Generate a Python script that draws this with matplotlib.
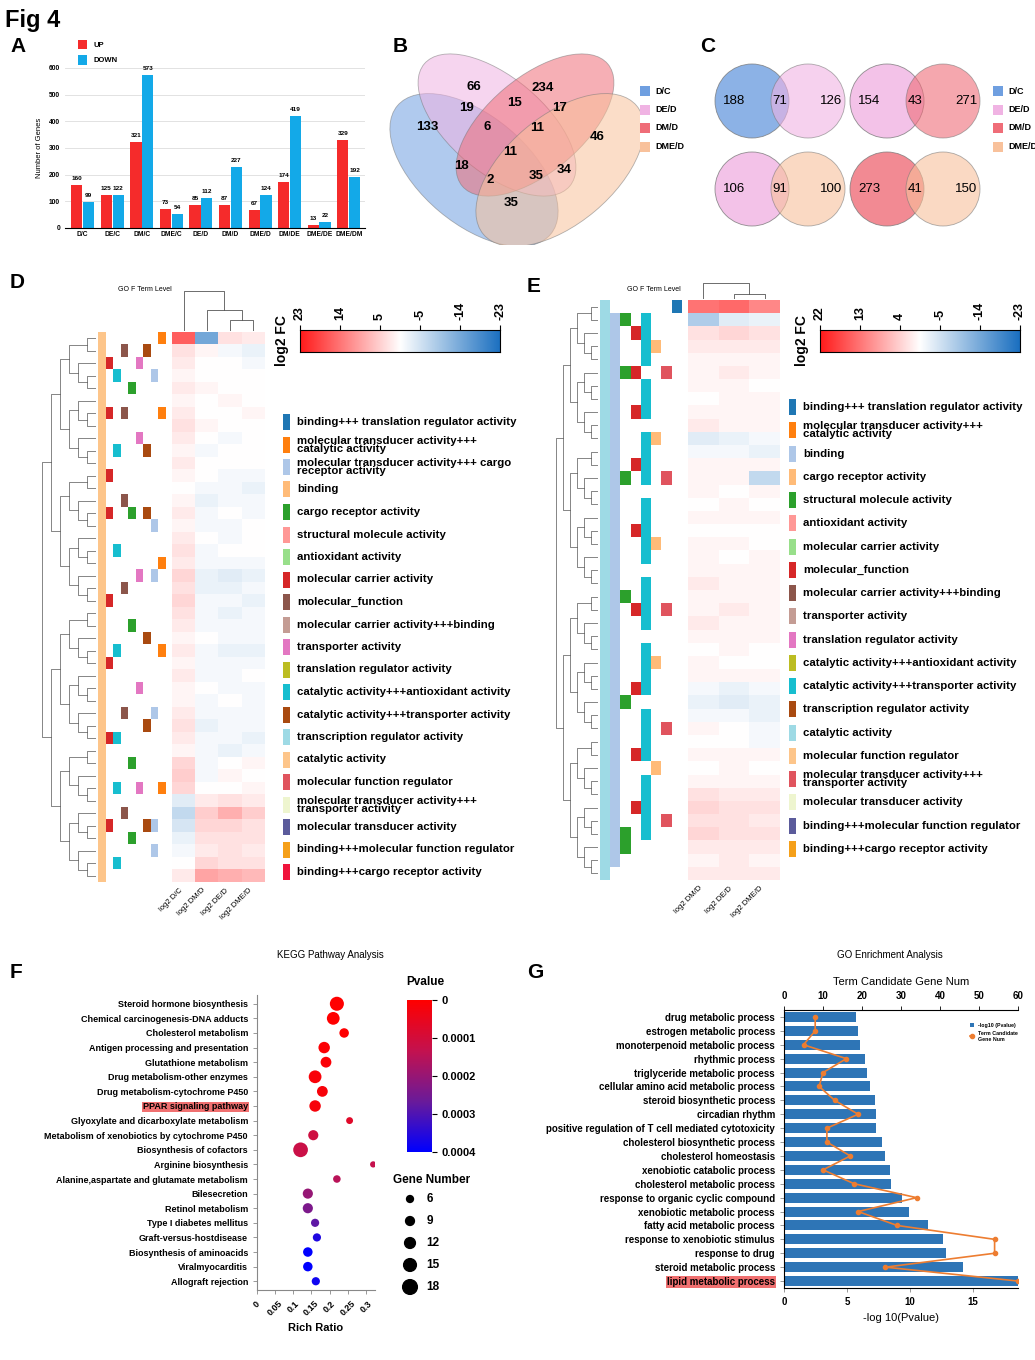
import numpy as np
import matplotlib.pyplot as plt
from matplotlib.patches import Ellipse, Circle, Rectangle
from matplotlib.colors import LinearSegmentedColormap, Normalize, ListedColormap

plt.rcParams['font.family'] = ['Liberation Sans', 'DejaVu Sans']
plt.rcParams['font.weight'] = 'bold'

W, H = 1035, 1360

# ---------------- data ----------------
# A: DEG counts
comparisons = ['D/C', 'DE/C', 'DM/C', 'DME/C', 'DE/D', 'DM/D', 'DME/D', 'DM/DE', 'DME/DE', 'DME/DM']
up_counts = [160, 125, 321, 73, 85, 87, 67, 174, 13, 329]
down_counts = [99, 122, 573, 54, 112, 227, 124, 419, 22, 192]

# B: four-set venn region counts
venn4_labels = ['D/C', 'DE/D', 'DM/D', 'DME/D']
venn4_counts = [133, 66, 234, 46, 19, 15, 17, 6, 11, 11, 34, 18, 35, 2, 35]

# C: pairwise venns (left, shared, right)
venn2_pairs = [('D/C', 'DE/D'), ('DE/D', 'DM/D'), ('DE/D', 'DME/D'), ('DM/D', 'DME/D')]
venn2_counts = [(188, 71, 126), (154, 43, 271), (106, 91, 100), (273, 41, 150)]

set_colors = {'D/C': '#6f9fe0', 'DE/D': '#f0b3e3', 'DM/D': '#ef6d78', 'DME/D': '#f8c19b'}

# D / E heatmaps (log2 FC, rows top to bottom)
heat_D_cols = ['log2 D/C', 'log2 DM/D', 'log2 DE/D', 'log2 DME/D']
heat_D = [
    [16, -14, 3, 2], [3, 1, -1, -2], [2, 0, 0, -1], [1, 0, 0, 0], [2, 1, 0, 0],
    [1, 0, 1, 0], [2, 0, 0, 1], [3, 1, 0, 0], [2, 0, -1, 0], [1, -1, 0, 0],
    [2, 0, 0, 0], [1, 0, -1, -1], [0, -1, -1, -2], [1, -2, -1, -1], [2, -1, 0, -1],
    [1, -1, -1, 0], [2, 0, -1, 0], [3, -1, 0, 0], [2, -1, -1, -1], [4, -2, -3, -2],
    [3, -2, -2, -1], [4, -1, -1, -2], [3, -1, -2, -1], [2, -1, -1, -1], [1, 0, -1, -1],
    [2, -1, -2, -2], [1, -1, -1, -1], [2, -1, -1, 0], [1, 0, -1, -1], [1, -1, 0, -1],
    [2, -1, -1, -1], [3, -2, -1, -1], [2, -1, -1, -2], [1, -1, -2, -1], [4, -1, 0, 1],
    [5, -1, 1, 0], [4, 0, 0, 1], [-3, 2, 3, 2], [-6, 5, 8, 5], [-4, 4, 4, 3],
    [-2, 3, 3, 3], [-1, 2, 3, 2], [0, 4, 3, 3], [2, 9, 8, 7],
]
heat_E_cols = ['log2 DM/D', 'log2 DE/D', 'log2 DME/D']
heat_E = [
    [14, 15, 12], [-8, -3, -2], [3, 4, 3], [2, 2, 2], [1, 1, 1],
    [1, 2, 1], [1, 1, 0], [0, 1, 1], [1, 1, 1], [2, 1, 1],
    [-3, -2, -1], [-1, -1, -2], [1, 1, 1], [1, 1, -6], [1, 0, 1],
    [0, 1, 0], [1, 1, 1], [0, 0, 0], [1, 1, 0], [1, 0, 1],
    [1, 1, 1], [2, 1, 1], [1, 1, 1], [1, 2, 1], [2, 1, 1],
    [1, 1, 1], [0, 1, 0], [1, 0, 0], [1, 1, 1], [-1, -2, -1],
    [-2, -3, -2], [-1, -1, -2], [1, 0, -1], [0, 0, -1], [1, 1, 1],
    [0, 1, 0], [1, 1, 1], [3, 2, 2], [4, 3, 3], [3, 3, 2],
    [4, 3, 3], [2, 2, 2], [1, 2, 1], [2, 2, 2],
]

go_names_D = [
    'binding+++ translation regulator activity', 'molecular transducer activity+++\ncatalytic activity',
    'molecular transducer activity+++ cargo\nreceptor activity', 'binding', 'cargo receptor activity',
    'structural molecule activity', 'antioxidant activity', 'molecular carrier activity',
    'molecular_function', 'molecular carrier activity+++binding', 'transporter activity',
    'translation regulator activity', 'catalytic activity+++antioxidant activity',
    'catalytic activity+++transporter activity', 'transcription regulator activity',
    'catalytic activity', 'molecular function regulator', 'molecular transducer activity+++\ntransporter activity',
    'molecular transducer activity', 'binding+++molecular function regulator', 'binding+++cargo receptor activity',
]
go_colors_D = ['#1f77b4', '#ff7f0e', '#aec7e8', '#ffbb78', '#2ca02c', '#ff9896', '#98df8a', '#d62728',
               '#8c564b', '#c49c94', '#e377c2', '#bcbd22', '#17becf', '#a94a10', '#9edae5', '#fdc58a',
               '#e0545e', '#eef5cf', '#5b5b9b', '#f5a01a', '#f0143c']
go_names_E = [
    'binding+++ translation regulator activity', 'molecular transducer activity+++\ncatalytic activity',
    'binding', 'cargo receptor activity', 'structural molecule activity', 'antioxidant activity',
    'molecular carrier activity', 'molecular_function', 'molecular carrier activity+++binding',
    'transporter activity', 'translation regulator activity', 'catalytic activity+++antioxidant activity',
    'catalytic activity+++transporter activity', 'transcription regulator activity', 'catalytic activity',
    'molecular function regulator', 'molecular transducer activity+++\ntransporter activity',
    'molecular transducer activity', 'binding+++molecular function regulator', 'binding+++cargo receptor activity',
]
go_colors_E = ['#1f77b4', '#ff7f0e', '#aec7e8', '#ffbb78', '#2ca02c', '#ff9896', '#98df8a', '#d62728',
               '#8c564b', '#c49c94', '#e377c2', '#bcbd22', '#17becf', '#a94a10', '#9edae5', '#fdc58a',
               '#e0545e', '#eef5cf', '#5b5b9b', '#f5a01a']

# GO term level strips: (legend index, rows where present; '#' = present)
strips_D = [
    (15, '############################################'),
    (7, '..#...#....#..#......#....#.....#......#....'),
    (12, '...#.....#.......#.......#......#...#.....#.'),
    (8, '.#....#......#......#.........#.......#.....'),
    (4, '....#.........#........#..........#.....#...'),
    (10, '..#.....#..........#........#.......#.......'),
    (13, '.#.......#....#.........#......#.......#....'),
    (2, '...#...........#...#..........#........#.#..'),
    (1, '#.....#...........#......#..........#.......'),
]
strips_E = [
    (14, '############################################'),
    (2, '.##########################################.'),
    (4, '.#...#.......#........#.......#.........##..'),
    (7, '..#..#..#...#....#.....#.....#....#...#.....'),
    (12, '.####.###.####.#####.####.####.####.#####...'),
    (3, '...#......#.......#........#.......#........'),
    (16, '.....#.......#.........#........#......#....'),
    (0, '#...........................................'),
]

# F: KEGG
kegg_terms = ['Steroid hormone biosynthesis', 'Chemical carcinogenesis-DNA adducts', 'Cholesterol metabolism',
              'Antigen processing and presentation', 'Glutathione metabolism', 'Drug metabolism-other enzymes',
              'Drug metabolism-cytochrome P450', 'PPAR signaling pathway', 'Glyoxylate and dicarboxylate metabolism',
              'Metabolism of xenobiotics by cytochrome P450', 'Biosynthesis of cofactors', 'Arginine biosynthesis',
              'Alanine,aspartate and glutamate metabolism', 'Bilesecretion', 'Retinol metabolism',
              'Type I diabetes mellitus', 'Graft-versus-hostdisease', 'Biosynthesis of aminoacids',
              'Viralmyocarditis', 'Allograft rejection']
kegg_ratio = [0.22, 0.21, 0.24, 0.185, 0.19, 0.16, 0.18, 0.16, 0.255, 0.155,
              0.12, 0.32, 0.22, 0.14, 0.14, 0.16, 0.165, 0.14, 0.14, 0.162]
kegg_p = [0.0, 0.0, 0.000002, 0.000008, 0.00001, 0.000015, 0.000018, 0.00002, 0.00007, 0.00011,
          0.00012, 0.00013, 0.00015, 0.0002, 0.00024, 0.00028, 0.00036, 0.0004, 0.0004, 0.00038]
kegg_genes = [17, 15, 10, 13, 12, 15, 12, 13, 6, 11, 18, 5, 7, 11, 11, 8, 8, 10, 10, 8]
gene_legend = [6, 9, 12, 15, 18]

# G: GO enrichment
go_terms = ['drug metabolic process', 'estrogen metabolic process', 'monoterpenoid metabolic process',
            'rhythmic process', 'triglyceride metabolic process', 'cellular amino acid metabolic process',
            'steroid biosynthetic process', 'circadian rhythm',
            'positive regulation of T cell mediated cytotoxicity', 'cholesterol biosynthetic process',
            'cholesterol homeostasis', 'xenobiotic catabolic process', 'cholesterol metabolic process',
            'response to organic cyclic compound', 'xenobiotic metabolic process', 'fatty acid metabolic process',
            'response to xenobiotic stimulus', 'response to drug', 'steroid metabolic process',
            'lipid metabolic process']
go_logp = [5.7, 5.85, 6.05, 6.45, 6.6, 6.85, 7.2, 7.3, 7.35, 7.75,
           8.05, 8.45, 8.5, 9.35, 9.9, 11.45, 12.65, 12.85, 14.2, 18.6]
go_genes = [8, 8, 5, 16, 10, 9, 13, 19, 11, 11, 17, 10, 18, 34, 19, 29, 54, 54, 26, 60]

# ---------------- helpers ----------------
fig = plt.figure(figsize=(W / 100, H / 100), dpi=100)


def ax_px(x0, y0, x1, y1, **kw):
    return fig.add_axes([x0 / W, 1 - y1 / H, (x1 - x0) / W, (y1 - y0) / H], **kw)


def fig_text(x, y, s, **kw):
    fig.text(x / W, 1 - y / H, s, **kw)


fig_text(5, 20, 'Fig 4', fontsize=17, fontweight='bold', va='center')
for lab, x, y in [('A', 10, 46), ('B', 393, 46), ('C', 700, 46), ('D', 10, 282),
                  ('E', 527, 287), ('F', 10, 972), ('G', 527, 972)]:
    fig_text(x, y, lab, fontsize=15, fontweight='bold', va='center')

# ---------------- A ----------------
axA = ax_px(65, 68, 365, 228)
x = np.arange(len(comparisons))
bw = 0.38
b1 = axA.bar(x - bw / 2 - 0.01, up_counts, bw, color='#f52b2b', label='UP')
b2 = axA.bar(x + bw / 2 + 0.01, down_counts, bw, color='#13a9e8', label='DOWN')
for bars in (b1, b2):
    for r in bars:
        axA.text(r.get_x() + r.get_width() / 2, r.get_height() + 15, str(int(r.get_height())),
                 ha='center', va='bottom', fontsize=4.6)
axA.set_ylim(0, 600)
axA.set_xlim(-0.6, len(comparisons) - 0.45)
axA.set_yticks(range(0, 601, 100))
axA.set_xticks(x)
axA.set_xticklabels(comparisons, fontsize=4.8)
axA.tick_params(axis='y', labelsize=4.8, length=0)
axA.tick_params(axis='x', length=0, pad=2)
axA.set_ylabel('Number of Genes', fontsize=5.5, fontweight='normal')
axA.grid(axis='y', color='#dddddd', lw=0.6)
axA.set_axisbelow(True)
for s in ['top', 'right', 'left']:
    axA.spines[s].set_visible(False)
axA.legend(loc='upper left', bbox_to_anchor=(0.02, 1.22), frameon=False, fontsize=5.5,
           handlelength=1.2, handleheight=1.6, labelspacing=0.7)

# ---------------- B ----------------
axB = ax_px(385, 35, 640, 245)
axB.set_xlim(385, 640)
axB.set_ylim(-245, -35)
axB.axis('off')
ell_specs = [((474, -170), 200, 108, -40), ((497, -125), 190, 95, -40),
             ((535, -125), 190, 95, 40), ((560, -170), 200, 108, 40)]
for name, (c, w, h, a) in zip(venn4_labels, ell_specs):
    axB.add_patch(Ellipse(c, w, h, angle=a, facecolor=set_colors[name], alpha=0.55,
                          edgecolor='#777777', lw=0.6))
venn4_pos = [(427, 127), (474, 87), (543, 88), (597, 137), (466, 108), (514, 103), (560, 108),
             (487, 127), (537, 128), (510, 152), (564, 170), (461, 166), (536, 176), (490, 180), (511, 203)]
for (px, py), n in zip(venn4_pos, venn4_counts):
    axB.text(px, -py, str(n), ha='center', va='center', fontsize=9.5, fontweight='bold')


def set_legend(x0, y0):
    for i, name in enumerate(venn4_labels):
        yy = y0 + i * 18.5
        fig.patches.append(Rectangle((x0 / W, 1 - (yy + 5) / H), 10 / W, 10 / H,
                                     transform=fig.transFigure, facecolor=set_colors[name], edgecolor='none'))
        fig_text(x0 + 15, yy, name, fontsize=6.5, va='center')


set_legend(640, 91)

# ---------------- C ----------------
axC = ax_px(705, 40, 1000, 240)
axC.set_xlim(705, 1000)
axC.set_ylim(-240, -40)
axC.set_aspect('equal')
axC.axis('off')
centers = [(752, 101), (887, 101), (752, 189), (887, 189)]
for (cx, cy), (l, r), cnt in zip(centers, venn2_pairs, venn2_counts):
    axC.add_patch(Circle((cx, -cy), 37, facecolor=set_colors[l], alpha=0.8, edgecolor='#777777', lw=0.6))
    axC.add_patch(Circle((cx + 56, -cy), 37, facecolor=set_colors[r], alpha=0.6, edgecolor='#777777', lw=0.6))
    for dx, n in zip((-18, 28, 79), cnt):
        axC.text(cx + dx, -cy, str(n), ha='center', va='center', fontsize=9.5, fontweight='normal')
set_legend(993, 91)

# ---------------- D / E heatmaps ----------------
heat_cmap = LinearSegmentedColormap.from_list('fc', ['#1a6fc0', '#ffffff', '#ff1a1a'])
heat_norm = Normalize(-23, 23)


def dendro(ax, lo, hi):
    # recursive halving tree over heatmap rows; returns (center, height)
    if hi - lo == 1:
        return lo + 0.5, 0.0
    mid = (lo + hi) // 2
    c1, h1 = dendro(ax, lo, mid)
    c2, h2 = dendro(ax, mid, hi)
    h = max(h1, h2) + 1
    ax.plot([-h1, -h, -h, -h2], [c1, c1, c2, c2], color='#555555', lw=0.5)
    return (c1 + c2) / 2, h


def heat_panel(data, cols, strips, colors, names, hx0, hx1, hy0, hy1, dx0, sx0, cbx0, cb_ticks,
               leg_y0, leg_y1, leg_x, col_link, col_top):
    arr = np.array(data, dtype=float)
    nr, nc = arr.shape
    axh = ax_px(hx0, hy0, hx1, hy1)
    axh.imshow(arr, cmap=heat_cmap, norm=heat_norm, aspect='auto', interpolation='nearest')
    axh.set_xticks(range(nc))
    axh.set_xticklabels(cols, rotation=45, ha='right', fontsize=5.5, fontweight='normal')
    axh.set_yticks([])
    axh.tick_params(length=0)
    for s in axh.spines.values():
        s.set_visible(False)
    # row dendrogram
    axd = ax_px(dx0, hy0, sx0 - 2, hy1)
    _, top = dendro(axd, 0, nr)
    axd.set_xlim(-top - 0.2, 0)
    axd.set_ylim(nr, 0)
    axd.axis('off')
    # GO strips
    axs = ax_px(sx0, hy0, hx0 - 6, hy1)
    ns = len(strips)
    mat = np.full((nr, ns), np.nan)
    for j, (ci, pres) in enumerate(strips):
        for i, ch in enumerate(pres):
            if ch == '#':
                mat[i, j] = ci
    axs.imshow(np.ma.masked_invalid(mat), cmap=ListedColormap(colors), vmin=-0.5,
               vmax=len(colors) - 0.5, aspect='auto', interpolation='nearest')
    axs.axis('off')
    fig_text((sx0 + hx0) / 2 + 10, 291, 'GO F Term Level', fontsize=5, ha='center', fontweight='normal')
    # column dendrogram
    axc = ax_px(hx0, col_top, hx1, hy0 - 1)
    axc.set_xlim(-0.5, nc - 0.5)
    xs = {i: float(i) for i in range(nc)}
    hs = {i: 0.0 for i in range(nc)}
    for (a, b, h) in col_link:
        axc.plot([xs[a], xs[a], xs[b], xs[b]], [hs[a], h, h, hs[b]], color='#555555', lw=0.6)
        xs[a] = (xs[a] + xs[b]) / 2
        hs[a] = h
    axc.set_ylim(0, 3.1)
    axc.axis('off')
    # colorbar
    axcb = ax_px(cbx0, 330, cbx0 + 200, 352)
    grad = np.linspace(23, -23, 256)[None, :]
    axcb.imshow(grad, cmap=heat_cmap, norm=heat_norm, aspect='auto', extent=[0, 1, 0, 1])
    axcb.set_yticks([])
    axcb.xaxis.tick_top()
    axcb.set_xticks(np.linspace(0, 1, len(cb_ticks)))
    axcb.set_xticklabels([str(t) for t in cb_ticks], rotation=90, fontsize=9)
    fig_text(cbx0 - 18, 341, 'log2 FC', rotation=90, fontsize=10, ha='center', va='center')
    # legend
    ys = np.linspace(leg_y0, leg_y1, len(names))
    for yy, nm, col in zip(ys, names, colors):
        fig.patches.append(Rectangle((leg_x / W, 1 - (yy + 8) / H), 7 / W, 16 / H,
                                     transform=fig.transFigure, facecolor=col, edgecolor='none'))
        fig_text(leg_x + 14, yy, nm, fontsize=8.2, va='center', linespacing=0.75)


heat_panel(heat_D, heat_D_cols, strips_D, go_colors_D, go_names_D,
           172, 265, 332, 882, 40, 98, 300, [23, 14, 5, -5, -14, -23], 422, 872, 283,
           [(2, 3, 0.8), (1, 2, 1.6), (0, 1, 3.0)], 290)
heat_panel(heat_E, heat_E_cols, strips_E, go_colors_E, go_names_E,
           688, 780, 300, 880, 555, 600, 820, [22, 13, 4, -5, -14, -23], 407, 849, 789,
           [(1, 2, 1.0), (0, 1, 3.0)], 282)

# ---------------- F ----------------
fig_text(330, 958, 'KEGG Pathway Analysis', fontsize=7, ha='center', fontweight='normal')
axF = ax_px(257, 995, 375, 1290)
p_cmap = LinearSegmentedColormap.from_list('pv', ['#ff0000', '#c4124f', '#6a1b9a', '#0000ff'])
p_norm = Normalize(0, 0.0004)


def bubble_size(n):
    return ((3.0 + 0.65 * n) * 0.72) ** 2


yk = np.arange(len(kegg_terms))
axF.scatter(kegg_ratio, yk, s=[bubble_size(n) for n in kegg_genes], c=kegg_p, cmap=p_cmap, norm=p_norm,
            edgecolors='none', zorder=3)
axF.set_ylim(len(kegg_terms) - 0.4, -0.6)
axF.set_xlim(0, 0.325)
axF.set_yticks(yk)
axF.set_yticklabels(kegg_terms, fontsize=6.5)
axF.set_xticks([0, 0.05, 0.1, 0.15, 0.2, 0.25, 0.3])
axF.set_xticklabels(['0', '0.05', '0.1', '0.15', '0.2', '0.25', '0.3'], rotation=45, fontsize=6.5)
axF.tick_params(length=3, width=0.6, color='#888888')
for s in ['top', 'right']:
    axF.spines[s].set_visible(False)
for s in ['left', 'bottom']:
    axF.spines[s].set_color('#888888')
axF.set_xlabel('Rich Ratio', fontsize=8, fontweight='bold')
lab = axF.get_yticklabels()[kegg_terms.index('PPAR signaling pathway')]
lab.set_bbox(dict(facecolor='#f07070', edgecolor='none', pad=0.6))

axFcb = ax_px(407, 1000, 432, 1152)
pgrad = np.linspace(0, 0.0004, 256)[:, None]
axFcb.imshow(pgrad, cmap=p_cmap, norm=p_norm, aspect='auto', extent=[0, 1, 0.0004, 0])
axFcb.set_xticks([])
axFcb.yaxis.tick_right()
axFcb.set_yticks([0, 0.0001, 0.0002, 0.0003, 0.0004])
axFcb.set_yticklabels(['0', '0.0001', '0.0002', '0.0003', '0.0004'], fontsize=8)
for s in axFcb.spines.values():
    s.set_visible(False)
fig_text(425, 982, 'Pvalue', fontsize=8.5, ha='center', va='center')

fig_text(432, 1180, 'Gene Number', fontsize=8.5, ha='center', va='center')
axL = ax_px(395, 1188, 470, 1298)
axL.set_xlim(0, 1)
axL.set_ylim(len(gene_legend) - 0.5, -0.5)
axL.scatter([0.2] * len(gene_legend), range(len(gene_legend)), s=[bubble_size(n) for n in gene_legend],
            color='black')
for i, n in enumerate(gene_legend):
    axL.text(0.42, i, str(n), fontsize=8.5, va='center')
axL.axis('off')

# ---------------- G ----------------
fig_text(890, 958, 'GO Enrichment Analysis', fontsize=7, ha='center', fontweight='normal')
axG = ax_px(784, 1010, 1018, 1288)
yg = np.arange(len(go_terms))
axG.barh(yg, go_logp, height=0.72, color='#2e75b6', label='-log10 (Pvalue)')
axG.set_ylim(len(go_terms) - 0.5, -0.5)
axG.set_xlim(0, 18.6)
axG.set_xticks([0, 5, 10, 15])
axG.set_yticks(yg)
axG.set_yticklabels(go_terms, fontsize=6.3)
axG.tick_params(labelsize=7, length=3, width=0.6, color='#888888')
axG.set_xlabel('-log 10(Pvalue)', fontsize=8)
axG.spines['right'].set_visible(False)
axG.spines['top'].set_visible(False)
lab = axG.get_yticklabels()[-1]
lab.set_bbox(dict(facecolor='#f07070', edgecolor='none', pad=0.6))
axG2 = axG.twiny()
axG2.plot(go_genes, yg, color='#ed7d31', marker='o', ms=3, lw=1.2, label='Term Candidate\nGene Num')
axG2.set_xlim(0, 60)
axG2.set_xticks(range(0, 61, 10))
axG2.tick_params(labelsize=7, length=3, width=0.6)
axG2.set_xlabel('Term Candidate Gene Num', fontsize=8)
for s in ['right', 'bottom', 'left']:
    axG2.spines[s].set_visible(False)
h1, l1 = axG.get_legend_handles_labels()
h2, l2 = axG2.get_legend_handles_labels()
axG2.legend(h1 + h2, l1 + l2, loc='upper right', fontsize=3.8, frameon=False, handlelength=0.8,
            bbox_to_anchor=(1.02, 0.97))

fig.savefig('out.png', dpi=100)
